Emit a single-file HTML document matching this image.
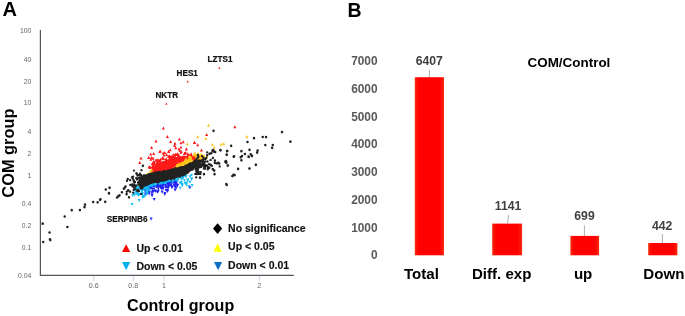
<!DOCTYPE html>
<html><head><meta charset="utf-8"><style>
html,body{margin:0;padding:0;background:#fff;width:685px;height:316px;overflow:hidden}
svg{display:block;will-change:transform}
text{font-family:"Liberation Sans",sans-serif}
</style></head><body>
<svg width="685" height="316" viewBox="0 0 685 316">
<path d="M151.0 170.5 L151.5 169.8 L152.0 169.0 L152.5 168.2 L153.0 167.5 L153.5 166.8 L154.0 166.0 L154.5 165.6 L155.0 165.2 L155.5 164.9 L156.0 164.5 L156.5 164.1 L157.0 163.8 L157.5 163.4 L158.0 163.0 L158.5 162.8 L159.0 162.6 L159.5 162.5 L160.0 162.3 L160.5 162.1 L161.0 161.9 L161.5 161.8 L162.0 161.6 L162.5 161.4 L163.0 161.2 L163.5 161.0 L164.0 160.9 L164.5 160.7 L165.0 160.5 L165.5 160.3 L166.0 160.1 L166.5 160.0 L167.0 159.8 L167.5 159.6 L168.0 159.4 L168.5 159.2 L169.0 159.1 L169.5 158.9 L170.0 158.7 L170.5 158.5 L171.0 158.4 L171.5 158.2 L172.0 158.0 L172.5 157.9 L173.0 157.8 L173.5 157.6 L174.0 157.5 L174.5 157.4 L175.0 157.2 L175.5 157.1 L176.0 157.0 L176.5 156.9 L177.0 156.8 L177.5 156.6 L178.0 156.5 L178.5 156.5 L179.0 156.4 L179.5 156.4 L180.0 156.3 L180.5 156.3 L181.0 156.2 L181.5 156.2 L182.0 156.2 L182.5 156.1 L183.0 156.1 L183.5 156.0 L184.0 156.0 L184.5 156.0 L185.0 156.0 L185.5 156.0 L186.0 156.0 L186.5 156.0 L187.0 156.0 L187.5 156.0 L188.0 156.0 L188.5 156.2 L189.0 156.4 L189.5 156.6 L190.0 156.8 L190.5 156.9 L191.0 157.1 L191.5 157.3 L192.0 157.5 L192.5 157.7 L193.0 157.8 L193.5 158.0 L194.0 158.2 L194.5 158.3 L195.0 158.5 L195.0 160.5 L194.5 160.8 L194.0 161.2 L193.5 161.6 L193.0 161.9 L192.5 162.2 L192.0 162.6 L191.5 162.8 L191.0 163.1 L190.5 163.3 L190.0 163.6 L189.5 163.8 L189.0 164.1 L188.5 164.3 L188.0 164.6 L187.5 164.8 L187.0 165.1 L186.5 165.3 L186.0 165.5 L185.5 165.7 L185.0 165.9 L184.5 166.1 L184.0 166.4 L183.5 166.6 L183.0 166.8 L182.5 167.0 L182.0 167.2 L181.5 167.3 L181.0 167.4 L180.5 167.5 L180.0 167.6 L179.5 167.7 L179.0 167.8 L178.5 167.9 L178.0 168.0 L177.5 168.1 L177.0 168.2 L176.5 168.3 L176.0 168.4 L175.5 168.5 L175.0 168.6 L174.5 168.7 L174.0 168.9 L173.5 169.0 L173.0 169.1 L172.5 169.3 L172.0 169.4 L171.5 169.5 L171.0 169.7 L170.5 169.8 L170.0 169.9 L169.5 170.1 L169.0 170.2 L168.5 170.3 L168.0 170.5 L167.5 170.6 L167.0 170.7 L166.5 170.9 L166.0 171.0 L165.5 171.1 L165.0 171.2 L164.5 171.2 L164.0 171.3 L163.5 171.4 L163.0 171.4 L162.5 171.5 L162.0 171.6 L161.5 171.7 L161.0 171.8 L160.5 171.8 L160.0 171.9 L159.5 172.0 L159.0 172.1 L158.5 172.2 L158.0 172.3 L157.5 172.4 L157.0 172.6 L156.5 172.7 L156.0 172.8 L155.5 172.9 L155.0 173.0 L154.5 173.1 L154.0 173.2 L153.5 173.3 L153.0 173.4 L152.5 173.6 L152.0 173.7 L151.5 173.8 L151.0 173.9Z" fill="#ff1a1a"/>
<path d="M173.0 167.9 L173.5 167.6 L174.0 167.4 L174.5 167.1 L175.0 166.8 L175.5 166.6 L176.0 166.4 L176.5 166.1 L177.0 165.9 L177.5 165.6 L178.0 165.3 L178.5 165.1 L179.0 164.8 L179.5 164.6 L180.0 164.3 L180.5 164.1 L181.0 163.8 L181.5 163.5 L182.0 163.3 L182.5 162.9 L183.0 162.6 L183.5 162.2 L184.0 161.9 L184.5 161.5 L185.0 161.1 L185.5 160.8 L186.0 160.4 L186.5 160.1 L187.0 159.8 L187.5 159.5 L188.0 159.2 L188.5 158.9 L189.0 158.5 L189.5 158.2 L190.0 157.9 L190.5 157.6 L191.0 157.2 L191.5 156.9 L192.0 156.6 L192.5 156.3 L193.0 156.0 L193.5 155.7 L194.0 155.4 L194.5 155.1 L195.0 154.8 L195.5 154.8 L196.0 154.8 L196.5 154.8 L197.0 154.8 L197.5 155.0 L198.0 155.1 L198.5 155.3 L199.0 155.5 L199.5 155.6 L200.0 155.8 L200.5 156.0 L201.0 156.1 L201.5 156.3 L202.0 156.5 L202.5 156.6 L203.0 156.8 L203.5 157.1 L204.0 157.3 L204.5 157.6 L204.5 160.4 L204.0 160.4 L203.5 160.4 L203.0 160.4 L202.5 160.4 L202.0 160.4 L201.5 160.4 L201.0 160.4 L200.5 160.4 L200.0 160.4 L199.5 160.4 L199.0 160.4 L198.5 160.4 L198.0 160.4 L197.5 160.4 L197.0 160.4 L196.5 160.5 L196.0 160.5 L195.5 160.5 L195.0 160.6 L194.5 160.9 L194.0 161.3 L193.5 161.7 L193.0 162.0 L192.5 162.3 L192.0 162.7 L191.5 162.9 L191.0 163.2 L190.5 163.4 L190.0 163.7 L189.5 163.9 L189.0 164.2 L188.5 164.4 L188.0 164.7 L187.5 164.9 L187.0 165.2 L186.5 165.4 L186.0 165.6 L185.5 165.8 L185.0 166.0 L184.5 166.2 L184.0 166.5 L183.5 166.7 L183.0 166.9 L182.5 167.1 L182.0 167.3 L181.5 167.4 L181.0 167.5 L180.5 167.6 L180.0 167.7 L179.5 167.8 L179.0 167.9 L178.5 168.0 L178.0 168.1 L177.5 168.2 L177.0 168.3 L176.5 168.4 L176.0 168.5 L175.5 168.6 L175.0 168.7 L174.5 168.8 L174.0 169.0 L173.5 169.1 L173.0 169.2Z" fill="#fac61c"/>
<path d="M150.0 184.8 L150.5 184.7 L151.0 184.7 L151.5 184.6 L152.0 184.6 L152.5 184.5 L153.0 184.5 L153.5 184.4 L154.0 184.3 L154.5 184.3 L155.0 184.2 L155.5 184.2 L156.0 184.1 L156.5 184.1 L157.0 184.0 L157.5 183.9 L158.0 183.7 L158.5 183.6 L159.0 183.5 L159.5 183.3 L160.0 183.2 L160.5 183.1 L161.0 183.0 L161.5 182.8 L162.0 182.7 L162.5 182.6 L163.0 182.4 L163.5 182.3 L164.0 182.2 L164.5 182.1 L165.0 181.9 L165.5 181.8 L166.0 181.7 L166.5 181.6 L167.0 181.5 L167.5 181.4 L168.0 181.4 L168.5 181.3 L169.0 181.2 L169.5 181.1 L170.0 181.0 L170.5 180.9 L171.0 180.9 L171.5 180.8 L172.0 180.7 L172.5 180.5 L173.0 180.4 L173.5 180.2 L174.0 180.1 L174.5 179.9 L175.0 179.8 L175.0 180.3 L174.5 180.7 L174.0 181.1 L173.5 181.5 L173.0 181.9 L172.5 182.3 L172.0 182.7 L171.5 182.9 L171.0 183.0 L170.5 183.2 L170.0 183.3 L169.5 183.5 L169.0 183.6 L168.5 183.8 L168.0 183.9 L167.5 184.1 L167.0 184.2 L166.5 184.4 L166.0 184.6 L165.5 184.8 L165.0 184.9 L164.5 185.1 L164.0 185.2 L163.5 185.3 L163.0 185.4 L162.5 185.6 L162.0 185.7 L161.5 185.8 L161.0 186.0 L160.5 186.1 L160.0 186.2 L159.5 186.3 L159.0 186.5 L158.5 186.6 L158.0 186.7 L157.5 186.9 L157.0 187.0 L156.5 187.1 L156.0 187.1 L155.5 187.2 L155.0 187.2 L154.5 187.1 L154.0 187.0 L153.5 186.9 L153.0 186.9 L152.5 186.8 L152.0 186.7 L151.5 186.6 L151.0 186.5 L150.5 186.4 L150.0 186.3Z" fill="#2020f2"/>
<path d="M139.0 177.5 L139.5 177.2 L140.0 176.9 L140.5 176.7 L141.0 176.4 L141.5 176.1 L142.0 175.9 L142.5 175.6 L143.0 175.3 L143.5 175.1 L144.0 175.0 L144.5 174.8 L145.0 174.7 L145.5 174.5 L146.0 174.3 L146.5 174.2 L147.0 174.0 L147.5 173.9 L148.0 173.9 L148.5 173.8 L149.0 173.7 L149.5 173.7 L150.0 173.6 L150.5 173.5 L151.0 173.4 L151.5 173.3 L152.0 173.2 L152.5 173.1 L153.0 172.9 L153.5 172.8 L154.0 172.7 L154.5 172.6 L155.0 172.5 L155.5 172.4 L156.0 172.3 L156.5 172.2 L157.0 172.1 L157.5 171.9 L158.0 171.8 L158.5 171.7 L159.0 171.6 L159.5 171.5 L160.0 171.4 L160.5 171.3 L161.0 171.2 L161.5 171.2 L162.0 171.1 L162.5 171.0 L163.0 170.9 L163.5 170.9 L164.0 170.8 L164.5 170.7 L165.0 170.7 L165.5 170.6 L166.0 170.5 L166.5 170.4 L167.0 170.2 L167.5 170.1 L168.0 170.0 L168.5 169.8 L169.0 169.7 L169.5 169.6 L170.0 169.4 L170.5 169.3 L171.0 169.2 L171.5 169.0 L172.0 168.9 L172.5 168.8 L173.0 168.6 L173.5 168.5 L174.0 168.4 L174.5 168.2 L175.0 168.1 L175.5 168.0 L176.0 167.9 L176.5 167.8 L177.0 167.7 L177.5 167.6 L178.0 167.5 L178.5 167.4 L179.0 167.3 L179.5 167.2 L180.0 167.1 L180.5 167.0 L181.0 166.9 L181.5 166.8 L182.0 166.7 L182.5 166.5 L183.0 166.3 L183.5 166.1 L184.0 165.9 L184.5 165.6 L185.0 165.4 L185.5 165.2 L186.0 165.0 L186.5 164.8 L187.0 164.6 L187.5 164.3 L188.0 164.1 L188.5 163.8 L189.0 163.6 L189.5 163.3 L190.0 163.1 L190.5 162.8 L191.0 162.6 L191.5 162.3 L192.0 162.1 L192.5 161.8 L193.0 161.4 L193.5 161.1 L194.0 160.7 L194.5 160.3 L195.0 160.0 L195.5 159.9 L196.0 159.9 L196.5 159.9 L197.0 159.8 L197.0 165.5 L196.5 166.0 L196.0 166.5 L195.5 167.0 L195.0 167.5 L194.5 168.0 L194.0 168.5 L193.5 168.9 L193.0 169.3 L192.5 169.8 L192.0 170.2 L191.5 170.6 L191.0 171.0 L190.5 171.4 L190.0 171.8 L189.5 172.1 L189.0 172.5 L188.5 172.9 L188.0 173.2 L187.5 173.6 L187.0 174.0 L186.5 174.2 L186.0 174.4 L185.5 174.6 L185.0 174.8 L184.5 175.1 L184.0 175.3 L183.5 175.5 L183.0 175.7 L182.5 176.0 L182.0 176.2 L181.5 176.5 L181.0 176.8 L180.5 177.0 L180.0 177.3 L179.5 177.5 L179.0 177.8 L178.5 177.9 L178.0 178.0 L177.5 178.1 L177.0 178.1 L176.5 178.2 L176.0 178.3 L175.5 178.5 L175.0 178.6 L174.5 178.8 L174.0 178.9 L173.5 179.1 L173.0 179.2 L172.5 179.3 L172.0 179.5 L171.5 179.6 L171.0 179.7 L170.5 179.8 L170.0 179.8 L169.5 179.9 L169.0 180.0 L168.5 180.1 L168.0 180.2 L167.5 180.2 L167.0 180.3 L166.5 180.4 L166.0 180.5 L165.5 180.6 L165.0 180.8 L164.5 180.9 L164.0 181.0 L163.5 181.1 L163.0 181.2 L162.5 181.4 L162.0 181.5 L161.5 181.6 L161.0 181.8 L160.5 181.9 L160.0 182.0 L159.5 182.2 L159.0 182.3 L158.5 182.4 L158.0 182.5 L157.5 182.7 L157.0 182.8 L156.5 182.9 L156.0 182.9 L155.5 183.0 L155.0 183.0 L154.5 183.1 L154.0 183.1 L153.5 183.2 L153.0 183.3 L152.5 183.3 L152.0 183.4 L151.5 183.4 L151.0 183.5 L150.5 183.5 L150.0 183.6 L149.5 183.8 L149.0 184.0 L148.5 184.2 L148.0 184.4 L147.5 184.7 L147.0 184.9 L146.5 185.1 L146.0 185.3 L145.5 185.7 L145.0 186.1 L144.5 186.5 L144.0 186.9 L143.5 187.3 L143.0 187.7 L142.5 188.1 L142.0 188.5 L141.5 188.0 L141.0 187.5 L140.5 187.0 L140.0 186.5 L139.5 186.0 L139.0 185.5Z" fill="#222222"/>
<path d="M143.9 193.4h2.9l-1.4 2.9zM149.5 185.4h2.9l-1.4 2.9zM152.5 187.5h2.9l-1.4 2.9zM160.7 187.1h2.9l-1.4 2.9zM163.8 181.4h2.9l-1.4 2.9zM169.7 183.8h2.9l-1.4 2.9zM173.5 185.7h2.9l-1.4 2.9zM167.4 185.4h2.9l-1.4 2.9zM147.8 190.9h2.9l-1.4 2.9zM173.6 180.5h2.9l-1.4 2.9zM156.0 190.8h2.9l-1.4 2.9zM169.8 183.3h2.9l-1.4 2.9zM174.7 183.3h2.9l-1.4 2.9zM150.3 185.5h2.9l-1.4 2.9zM167.4 182.9h2.9l-1.4 2.9zM167.2 185.8h2.9l-1.4 2.9zM150.6 194.4h2.9l-1.4 2.9zM175.8 183.6h2.9l-1.4 2.9zM161.3 182.8h2.9l-1.4 2.9zM173.6 181.9h2.9l-1.4 2.9zM171.8 180.5h2.9l-1.4 2.9zM158.1 184.0h2.9l-1.4 2.9zM161.7 182.3h2.9l-1.4 2.9zM144.5 191.3h2.9l-1.4 2.9zM170.3 185.9h2.9l-1.4 2.9zM149.3 187.4h2.9l-1.4 2.9zM154.6 184.0h2.9l-1.4 2.9zM148.5 186.8h2.9l-1.4 2.9zM160.6 183.3h2.9l-1.4 2.9zM166.3 188.6h2.9l-1.4 2.9zM174.8 186.5h2.9l-1.4 2.9zM146.4 185.6h2.9l-1.4 2.9zM150.9 187.6h2.9l-1.4 2.9zM167.6 181.1h2.9l-1.4 2.9zM164.6 188.9h2.9l-1.4 2.9zM162.0 182.8h2.9l-1.4 2.9zM153.8 189.6h2.9l-1.4 2.9zM173.3 183.5h2.9l-1.4 2.9zM150.4 191.2h2.9l-1.4 2.9zM160.8 190.5h2.9l-1.4 2.9zM162.5 183.1h2.9l-1.4 2.9zM160.2 186.9h2.9l-1.4 2.9zM163.5 192.0h2.9l-1.4 2.9zM160.6 183.9h2.9l-1.4 2.9zM156.8 184.7h2.9l-1.4 2.9zM159.8 187.1h2.9l-1.4 2.9zM166.4 185.4h2.9l-1.4 2.9zM157.2 184.9h2.9l-1.4 2.9zM175.1 180.9h2.9l-1.4 2.9zM159.2 183.9h2.9l-1.4 2.9zM147.7 192.6h2.9l-1.4 2.9zM173.3 181.7h2.9l-1.4 2.9zM159.3 183.5h2.9l-1.4 2.9zM163.9 183.7h2.9l-1.4 2.9zM174.1 182.8h2.9l-1.4 2.9zM144.3 191.9h2.9l-1.4 2.9zM150.0 185.0h2.9l-1.4 2.9zM154.2 189.8h2.9l-1.4 2.9zM155.3 184.8h2.9l-1.4 2.9zM167.7 181.8h2.9l-1.4 2.9zM147.6 188.2h2.9l-1.4 2.9zM150.1 184.2h2.9l-1.4 2.9zM161.1 185.5h2.9l-1.4 2.9zM157.2 184.4h2.9l-1.4 2.9zM161.0 183.4h2.9l-1.4 2.9zM164.4 183.5h2.9l-1.4 2.9zM164.6 189.0h2.9l-1.4 2.9zM163.7 182.7h2.9l-1.4 2.9zM171.8 180.3h2.9l-1.4 2.9zM170.3 185.8h2.9l-1.4 2.9zM173.3 180.4h2.9l-1.4 2.9zM174.0 181.6h2.9l-1.4 2.9zM150.7 193.5h2.9l-1.4 2.9zM148.0 184.5h2.9l-1.4 2.9zM151.4 184.3h2.9l-1.4 2.9zM146.8 188.6h2.9l-1.4 2.9zM171.0 185.3h2.9l-1.4 2.9zM147.7 188.5h2.9l-1.4 2.9zM156.8 183.3h2.9l-1.4 2.9zM150.2 184.8h2.9l-1.4 2.9zM166.1 190.0h2.9l-1.4 2.9zM147.4 191.3h2.9l-1.4 2.9zM160.2 182.4h2.9l-1.4 2.9zM166.2 185.7h2.9l-1.4 2.9zM149.8 186.0h2.9l-1.4 2.9zM144.8 186.7h2.9l-1.4 2.9zM161.8 187.0h2.9l-1.4 2.9zM148.4 184.8h2.9l-1.4 2.9zM149.6 186.6h2.9l-1.4 2.9zM176.2 184.0h2.9l-1.4 2.9zM174.1 179.9h2.9l-1.4 2.9zM174.9 179.4h2.9l-1.4 2.9zM158.8 182.8h2.9l-1.4 2.9zM159.0 186.0h2.9l-1.4 2.9zM160.6 187.0h2.9l-1.4 2.9zM144.0 188.9h2.9l-1.4 2.9zM166.7 182.1h2.9l-1.4 2.9zM158.5 184.7h2.9l-1.4 2.9zM167.9 182.6h2.9l-1.4 2.9zM149.0 185.9h2.9l-1.4 2.9zM160.5 190.5h2.9l-1.4 2.9zM170.0 180.9h2.9l-1.4 2.9zM166.8 184.3h2.9l-1.4 2.9zM156.9 187.4h2.9l-1.4 2.9zM163.3 193.0h2.9l-1.4 2.9zM170.1 180.4h2.9l-1.4 2.9zM152.1 190.0h2.9l-1.4 2.9zM169.2 183.5h2.9l-1.4 2.9zM170.4 186.3h2.9l-1.4 2.9zM172.6 183.4h2.9l-1.4 2.9zM166.5 181.5h2.9l-1.4 2.9zM156.9 189.8h2.9l-1.4 2.9zM167.4 183.9h2.9l-1.4 2.9zM159.0 184.0h2.9l-1.4 2.9zM143.9 190.4h2.9l-1.4 2.9zM164.1 185.8h2.9l-1.4 2.9zM151.2 190.2h2.9l-1.4 2.9zM154.7 185.5h2.9l-1.4 2.9zM165.3 185.6h2.9l-1.4 2.9zM156.4 185.2h2.9l-1.4 2.9zM152.7 198.1h3.0l-1.5 3.0zM173.6 188.5h3.0l-1.5 3.0zM175.7 184.0h3.0l-1.5 3.0zM173.5 188.4h3.0l-1.5 3.0zM188.4 186.2h3.0l-1.5 3.0zM171.8 180.1h3.0l-1.5 3.0z" fill="#2020f2"/>
<path d="M184.5 174.9h2.9l-1.4 2.9zM170.8 180.5h2.9l-1.4 2.9zM139.6 188.0h2.9l-1.4 2.9zM147.5 184.1h2.9l-1.4 2.9zM143.1 186.3h2.9l-1.4 2.9zM180.2 176.7h2.9l-1.4 2.9zM161.9 181.5h2.9l-1.4 2.9zM184.3 175.0h2.9l-1.4 2.9zM166.0 179.7h2.9l-1.4 2.9zM181.3 175.4h2.9l-1.4 2.9zM161.3 180.8h2.9l-1.4 2.9zM182.0 175.6h2.9l-1.4 2.9zM162.8 181.0h2.9l-1.4 2.9zM151.7 183.8h2.9l-1.4 2.9zM139.2 186.9h2.9l-1.4 2.9zM140.5 188.1h2.9l-1.4 2.9zM179.8 177.3h2.9l-1.4 2.9zM140.9 189.4h2.9l-1.4 2.9zM182.0 175.0h2.9l-1.4 2.9zM180.2 176.5h2.9l-1.4 2.9zM160.5 181.3h2.9l-1.4 2.9zM162.6 181.6h2.9l-1.4 2.9zM160.1 182.4h2.9l-1.4 2.9zM147.9 183.3h2.9l-1.4 2.9zM158.9 182.1h2.9l-1.4 2.9zM150.6 183.8h2.9l-1.4 2.9zM157.8 182.5h2.9l-1.4 2.9zM184.4 175.5h2.9l-1.4 2.9zM143.8 186.9h2.9l-1.4 2.9zM174.6 178.3h2.9l-1.4 2.9zM151.0 183.9h2.9l-1.4 2.9zM164.5 181.0h2.9l-1.4 2.9zM150.0 184.5h2.9l-1.4 2.9zM180.7 177.1h2.9l-1.4 2.9zM140.4 187.8h2.9l-1.4 2.9zM151.0 183.4h2.9l-1.4 2.9zM142.5 187.5h2.9l-1.4 2.9zM163.9 180.7h2.9l-1.4 2.9zM154.4 183.6h2.9l-1.4 2.9zM177.1 177.4h2.9l-1.4 2.9zM144.1 186.5h2.9l-1.4 2.9zM167.2 179.8h2.9l-1.4 2.9zM168.6 179.8h2.9l-1.4 2.9zM163.8 181.7h2.9l-1.4 2.9zM143.0 187.5h2.9l-1.4 2.9zM142.2 186.7h2.9l-1.4 2.9zM148.4 184.2h2.9l-1.4 2.9zM142.3 187.0h2.9l-1.4 2.9zM171.9 179.0h2.9l-1.4 2.9zM145.1 185.0h2.9l-1.4 2.9zM143.9 186.4h2.9l-1.4 2.9zM164.7 181.5h2.9l-1.4 2.9zM180.6 176.4h2.9l-1.4 2.9zM153.2 183.1h2.9l-1.4 2.9zM181.5 176.7h2.9l-1.4 2.9zM150.0 183.4h2.9l-1.4 2.9zM147.5 184.4h2.9l-1.4 2.9zM175.2 179.0h2.9l-1.4 2.9zM173.5 178.5h2.9l-1.4 2.9zM139.6 187.8h2.9l-1.4 2.9zM163.6 181.8h2.9l-1.4 2.9zM168.5 179.3h2.9l-1.4 2.9zM163.7 180.2h2.9l-1.4 2.9zM142.3 187.8h2.9l-1.4 2.9zM179.9 176.1h2.9l-1.4 2.9zM172.9 178.6h2.9l-1.4 2.9zM148.7 184.3h2.9l-1.4 2.9zM162.5 181.1h2.9l-1.4 2.9zM154.1 184.1h2.9l-1.4 2.9zM163.3 181.4h2.9l-1.4 2.9zM180.6 176.3h2.9l-1.4 2.9zM176.6 178.5h2.9l-1.4 2.9zM146.2 191.2h2.9l-1.4 2.9zM145.9 192.2h2.9l-1.4 2.9zM147.9 188.8h2.9l-1.4 2.9zM140.9 193.8h2.9l-1.4 2.9zM145.4 187.7h2.9l-1.4 2.9zM139.3 187.2h2.9l-1.4 2.9zM144.4 193.9h2.9l-1.4 2.9zM138.6 186.7h2.9l-1.4 2.9zM135.8 188.3h2.9l-1.4 2.9zM137.2 193.7h2.9l-1.4 2.9zM133.5 187.1h2.9l-1.4 2.9zM134.4 190.5h2.9l-1.4 2.9zM145.0 185.5h2.9l-1.4 2.9zM133.5 188.6h2.9l-1.4 2.9zM141.9 195.1h2.9l-1.4 2.9zM133.1 185.1h2.9l-1.4 2.9zM135.5 186.2h2.9l-1.4 2.9zM136.3 191.2h2.9l-1.4 2.9zM142.1 188.1h2.9l-1.4 2.9zM135.5 186.9h2.9l-1.4 2.9zM135.3 191.6h2.9l-1.4 2.9zM137.5 189.5h2.9l-1.4 2.9zM145.6 188.2h2.9l-1.4 2.9zM136.7 192.9h2.9l-1.4 2.9zM147.2 186.2h2.9l-1.4 2.9zM141.3 196.0h2.9l-1.4 2.9zM140.3 189.0h2.9l-1.4 2.9zM133.3 193.5h2.9l-1.4 2.9zM145.4 187.4h2.9l-1.4 2.9zM141.0 191.9h2.9l-1.4 2.9zM136.9 194.0h2.9l-1.4 2.9zM143.1 187.4h2.9l-1.4 2.9zM132.7 188.8h2.9l-1.4 2.9zM138.5 193.0h2.9l-1.4 2.9zM144.0 190.4h2.9l-1.4 2.9zM135.1 185.6h2.9l-1.4 2.9zM137.7 186.8h2.9l-1.4 2.9zM146.5 188.2h2.9l-1.4 2.9zM142.7 195.2h2.9l-1.4 2.9zM136.8 189.4h2.9l-1.4 2.9zM135.0 191.8h2.9l-1.4 2.9zM132.6 192.3h2.9l-1.4 2.9zM146.1 191.4h2.9l-1.4 2.9zM133.9 186.7h2.9l-1.4 2.9zM144.0 185.3h2.9l-1.4 2.9zM140.2 191.4h2.9l-1.4 2.9zM147.8 188.3h2.9l-1.4 2.9zM146.3 186.2h2.9l-1.4 2.9zM145.2 187.8h2.9l-1.4 2.9zM147.2 183.6h2.9l-1.4 2.9zM190.1 173.7h2.9l-1.4 2.9zM186.2 179.3h2.9l-1.4 2.9zM180.8 184.3h2.9l-1.4 2.9zM182.9 179.2h2.9l-1.4 2.9zM179.6 180.7h2.9l-1.4 2.9zM185.1 181.5h2.9l-1.4 2.9zM183.6 181.9h2.9l-1.4 2.9zM180.0 181.2h2.9l-1.4 2.9zM185.0 183.5h2.9l-1.4 2.9zM190.2 177.3h2.9l-1.4 2.9zM178.7 181.8h2.9l-1.4 2.9zM188.5 175.2h2.9l-1.4 2.9zM186.4 178.5h2.9l-1.4 2.9zM178.7 186.7h2.9l-1.4 2.9zM130.6 203.1h3.0l-1.5 3.0zM137.7 199.1h3.0l-1.5 3.0zM131.3 194.1h3.0l-1.5 3.0zM135.6 192.7h3.0l-1.5 3.0zM179.6 177.3h3.0l-1.5 3.0zM180.7 182.9h3.0l-1.5 3.0zM188.4 180.7h3.0l-1.5 3.0zM190.1 177.9h3.0l-1.5 3.0zM190.6 184.0h3.0l-1.5 3.0zM187.3 185.1h3.0l-1.5 3.0z" fill="#14bbf4"/>
<path d="M169.8 156.4l1.4 2.9h-2.9zM191.5 153.9l1.4 2.9h-2.9zM172.4 155.6l1.4 2.9h-2.9zM157.5 160.4l1.4 2.9h-2.9zM178.0 155.0l1.4 2.9h-2.9zM153.3 161.9l1.4 2.9h-2.9zM153.2 165.5l1.4 2.9h-2.9zM180.9 150.8l1.4 2.9h-2.9zM194.2 157.6l1.4 2.9h-2.9zM179.1 154.0l1.4 2.9h-2.9zM156.2 158.5l1.4 2.9h-2.9zM173.3 152.9l1.4 2.9h-2.9zM157.7 158.9l1.4 2.9h-2.9zM150.4 166.0l1.4 2.9h-2.9zM169.3 157.8l1.4 2.9h-2.9zM172.9 155.7l1.4 2.9h-2.9zM172.0 156.0l1.4 2.9h-2.9zM170.0 155.0l1.4 2.9h-2.9zM194.9 158.0l1.4 2.9h-2.9zM187.6 153.9l1.4 2.9h-2.9zM163.5 157.0l1.4 2.9h-2.9zM162.3 156.7l1.4 2.9h-2.9zM184.2 152.3l1.4 2.9h-2.9zM187.9 152.2l1.4 2.9h-2.9zM193.1 156.6l1.4 2.9h-2.9zM149.0 165.5l1.4 2.9h-2.9zM190.9 153.6l1.4 2.9h-2.9zM194.1 154.8l1.4 2.9h-2.9zM152.4 165.2l1.4 2.9h-2.9zM184.8 151.5l1.4 2.9h-2.9zM153.0 162.4l1.4 2.9h-2.9zM193.3 156.3l1.4 2.9h-2.9zM154.4 160.8l1.4 2.9h-2.9zM153.6 160.1l1.4 2.9h-2.9zM185.7 151.0l1.4 2.9h-2.9zM174.7 154.3l1.4 2.9h-2.9zM157.8 161.4l1.4 2.9h-2.9zM155.0 162.7l1.4 2.9h-2.9zM154.4 161.9l1.4 2.9h-2.9zM158.8 158.7l1.4 2.9h-2.9zM193.7 156.6l1.4 2.9h-2.9zM163.0 160.2l1.4 2.9h-2.9zM158.7 159.3l1.4 2.9h-2.9zM188.3 153.7l1.4 2.9h-2.9zM153.6 166.1l1.4 2.9h-2.9zM158.8 158.6l1.4 2.9h-2.9zM184.5 151.9l1.4 2.9h-2.9zM162.6 156.6l1.4 2.9h-2.9zM153.1 164.0l1.4 2.9h-2.9zM160.2 159.8l1.4 2.9h-2.9zM166.1 157.2l1.4 2.9h-2.9zM193.1 154.8l1.4 2.9h-2.9zM175.4 156.1l1.4 2.9h-2.9zM157.4 158.6l1.4 2.9h-2.9zM190.8 155.6l1.4 2.9h-2.9zM160.5 157.8l1.4 2.9h-2.9zM183.0 155.3l1.4 2.9h-2.9zM158.0 162.3l1.4 2.9h-2.9zM189.6 153.8l1.4 2.9h-2.9zM168.4 154.8l1.4 2.9h-2.9zM150.8 169.8l1.4 2.9h-2.9zM160.0 160.4l1.4 2.9h-2.9zM160.8 160.7l1.4 2.9h-2.9zM176.4 153.0l1.4 2.9h-2.9zM157.1 161.8l1.4 2.9h-2.9zM152.2 162.3l1.4 2.9h-2.9zM174.7 156.2l1.4 2.9h-2.9zM177.3 152.7l1.4 2.9h-2.9zM191.2 152.3l1.4 2.9h-2.9zM149.8 165.2l1.4 2.9h-2.9zM169.5 154.2l1.4 2.9h-2.9zM157.1 159.9l1.4 2.9h-2.9zM175.3 152.6l1.4 2.9h-2.9zM165.7 159.3l1.4 2.9h-2.9zM194.1 156.1l1.4 2.9h-2.9zM179.0 147.4l1.4 2.9h-2.9zM155.9 158.5l1.4 2.9h-2.9zM150.8 152.5l1.4 2.9h-2.9zM179.4 137.6l1.4 2.9h-2.9zM150.9 157.9l1.4 2.9h-2.9zM170.3 148.4l1.4 2.9h-2.9zM163.4 126.6l1.4 2.9h-2.9zM153.2 156.8l1.4 2.9h-2.9zM181.0 141.3l1.4 2.9h-2.9zM181.0 145.7l1.4 2.9h-2.9zM183.3 140.3l1.4 2.9h-2.9zM164.8 151.0l1.4 2.9h-2.9zM234.9 125.3l1.5 3.0h-3.0zM206.6 133.1l1.5 3.0h-3.0zM194.7 141.1l1.5 3.0h-3.0zM197.7 143.3l1.5 3.0h-3.0zM186.3 147.5l1.5 3.0h-3.0zM201.5 148.5l1.5 3.0h-3.0zM167.4 134.9l1.5 3.0h-3.0zM156.0 139.4l1.5 3.0h-3.0zM170.6 140.1l1.5 3.0h-3.0zM174.9 141.7l1.5 3.0h-3.0zM174.6 144.1l1.5 3.0h-3.0zM175.8 146.2l1.5 3.0h-3.0zM151.6 146.0l1.5 3.0h-3.0zM153.7 151.9l1.5 3.0h-3.0zM159.8 150.0l1.5 3.0h-3.0zM163.2 151.5l1.5 3.0h-3.0zM168.5 150.0l1.5 3.0h-3.0zM179.8 148.8l1.5 3.0h-3.0zM181.2 150.0l1.5 3.0h-3.0zM186.4 147.3l1.5 3.0h-3.0zM194.3 140.9l1.5 3.0h-3.0zM141.0 156.6l1.5 3.0h-3.0zM148.6 156.0l1.5 3.0h-3.0zM151.6 156.0l1.5 3.0h-3.0zM139.7 161.1l1.5 3.0h-3.0zM160.2 149.5l1.5 3.0h-3.0zM148.9 156.0l1.5 3.0h-3.0zM164.0 153.5l1.5 3.0h-3.0zM166.6 152.9l1.5 3.0h-3.0zM168.8 150.1l1.5 3.0h-3.0zM169.1 155.1l1.5 3.0h-3.0zM177.7 152.3l1.5 3.0h-3.0zM171.2 154.9l1.5 3.0h-3.0zM173.2 155.7l1.5 3.0h-3.0z" fill="#ff1a1a"/>
<path d="M203.9 154.1l1.4 2.9h-2.9zM188.9 155.7l1.4 2.9h-2.9zM202.8 154.3l1.4 2.9h-2.9zM195.4 152.9l1.4 2.9h-2.9zM194.1 152.9l1.4 2.9h-2.9zM178.5 162.5l1.4 2.9h-2.9zM206.8 155.2l1.4 2.9h-2.9zM198.6 153.4l1.4 2.9h-2.9zM198.8 153.0l1.4 2.9h-2.9zM189.7 155.1l1.4 2.9h-2.9zM178.6 162.2l1.4 2.9h-2.9zM176.9 163.5l1.4 2.9h-2.9zM190.9 155.8l1.4 2.9h-2.9zM197.6 152.8l1.4 2.9h-2.9zM195.0 151.5l1.4 2.9h-2.9zM183.9 160.9l1.4 2.9h-2.9zM185.3 158.3l1.4 2.9h-2.9zM182.3 161.7l1.4 2.9h-2.9zM204.1 154.7l1.4 2.9h-2.9zM189.7 154.9l1.4 2.9h-2.9zM186.1 157.7l1.4 2.9h-2.9zM182.2 161.2l1.4 2.9h-2.9zM201.0 152.9l1.4 2.9h-2.9zM203.3 155.0l1.4 2.9h-2.9zM194.1 153.6l1.4 2.9h-2.9zM180.2 162.0l1.4 2.9h-2.9zM201.9 153.4l1.4 2.9h-2.9zM198.0 151.8l1.4 2.9h-2.9zM184.6 160.1l1.4 2.9h-2.9zM190.0 156.3l1.4 2.9h-2.9zM182.6 160.9l1.4 2.9h-2.9zM195.4 152.6l1.4 2.9h-2.9zM185.8 157.5l1.4 2.9h-2.9zM206.4 156.2l1.4 2.9h-2.9zM178.3 164.2l1.4 2.9h-2.9zM203.1 155.8l1.4 2.9h-2.9zM198.0 152.7l1.4 2.9h-2.9zM185.6 157.8l1.4 2.9h-2.9zM176.6 164.8l1.4 2.9h-2.9zM190.1 156.8l1.4 2.9h-2.9zM151.9 170.9l1.4 2.9h-2.9zM147.4 172.3l1.4 2.9h-2.9zM150.6 170.5l1.4 2.9h-2.9zM150.6 169.7l1.4 2.9h-2.9zM151.7 168.4l1.4 2.9h-2.9zM150.9 171.2l1.4 2.9h-2.9zM149.6 171.6l1.4 2.9h-2.9zM208.5 123.7l1.5 3.0h-3.0zM197.7 135.1l1.5 3.0h-3.0zM205.8 137.0l1.5 3.0h-3.0zM187.4 142.2l1.5 3.0h-3.0zM212.4 143.0l1.5 3.0h-3.0zM214.2 145.7l1.5 3.0h-3.0zM221.1 142.7l1.5 3.0h-3.0zM223.7 141.9l1.5 3.0h-3.0zM246.8 134.9l1.5 3.0h-3.0z" fill="#fac61c"/>
<path d="M187.4 165.0a1.22 1.22 0 1 0 2.43 0a1.22 1.22 0 1 0 -2.43 0zM155.8 173.2a1.22 1.22 0 1 0 2.43 0a1.22 1.22 0 1 0 -2.43 0zM156.3 172.8a1.22 1.22 0 1 0 2.43 0a1.22 1.22 0 1 0 -2.43 0zM179.1 167.6a1.22 1.22 0 1 0 2.43 0a1.22 1.22 0 1 0 -2.43 0zM183.1 167.4a1.22 1.22 0 1 0 2.43 0a1.22 1.22 0 1 0 -2.43 0zM172.7 177.5a1.22 1.22 0 1 0 2.43 0a1.22 1.22 0 1 0 -2.43 0zM189.1 163.5a1.22 1.22 0 1 0 2.43 0a1.22 1.22 0 1 0 -2.43 0zM143.6 185.5a1.22 1.22 0 1 0 2.43 0a1.22 1.22 0 1 0 -2.43 0zM148.9 183.1a1.22 1.22 0 1 0 2.43 0a1.22 1.22 0 1 0 -2.43 0zM174.5 168.6a1.22 1.22 0 1 0 2.43 0a1.22 1.22 0 1 0 -2.43 0zM147.5 174.7a1.22 1.22 0 1 0 2.43 0a1.22 1.22 0 1 0 -2.43 0zM142.3 186.1a1.22 1.22 0 1 0 2.43 0a1.22 1.22 0 1 0 -2.43 0zM169.5 179.1a1.22 1.22 0 1 0 2.43 0a1.22 1.22 0 1 0 -2.43 0zM188.7 163.9a1.22 1.22 0 1 0 2.43 0a1.22 1.22 0 1 0 -2.43 0zM163.3 171.6a1.22 1.22 0 1 0 2.43 0a1.22 1.22 0 1 0 -2.43 0zM181.2 175.4a1.22 1.22 0 1 0 2.43 0a1.22 1.22 0 1 0 -2.43 0zM178.7 175.3a1.22 1.22 0 1 0 2.43 0a1.22 1.22 0 1 0 -2.43 0zM158.3 172.8a1.22 1.22 0 1 0 2.43 0a1.22 1.22 0 1 0 -2.43 0zM144.4 175.5a1.22 1.22 0 1 0 2.43 0a1.22 1.22 0 1 0 -2.43 0zM186.7 172.4a1.22 1.22 0 1 0 2.43 0a1.22 1.22 0 1 0 -2.43 0zM147.6 183.7a1.22 1.22 0 1 0 2.43 0a1.22 1.22 0 1 0 -2.43 0zM171.8 169.7a1.22 1.22 0 1 0 2.43 0a1.22 1.22 0 1 0 -2.43 0zM146.6 184.3a1.22 1.22 0 1 0 2.43 0a1.22 1.22 0 1 0 -2.43 0zM169.8 179.2a1.22 1.22 0 1 0 2.43 0a1.22 1.22 0 1 0 -2.43 0zM150.0 182.6a1.22 1.22 0 1 0 2.43 0a1.22 1.22 0 1 0 -2.43 0zM150.1 174.0a1.22 1.22 0 1 0 2.43 0a1.22 1.22 0 1 0 -2.43 0zM173.5 177.3a1.22 1.22 0 1 0 2.43 0a1.22 1.22 0 1 0 -2.43 0zM195.4 160.8a1.22 1.22 0 1 0 2.43 0a1.22 1.22 0 1 0 -2.43 0zM145.5 183.3a1.22 1.22 0 1 0 2.43 0a1.22 1.22 0 1 0 -2.43 0zM193.8 166.5a1.22 1.22 0 1 0 2.43 0a1.22 1.22 0 1 0 -2.43 0zM172.5 170.1a1.22 1.22 0 1 0 2.43 0a1.22 1.22 0 1 0 -2.43 0zM199.3 164.6a1.22 1.22 0 1 0 2.43 0a1.22 1.22 0 1 0 -2.43 0zM145.4 183.6a1.22 1.22 0 1 0 2.43 0a1.22 1.22 0 1 0 -2.43 0zM193.4 161.4a1.22 1.22 0 1 0 2.43 0a1.22 1.22 0 1 0 -2.43 0zM189.3 164.0a1.22 1.22 0 1 0 2.43 0a1.22 1.22 0 1 0 -2.43 0zM142.5 175.6a1.22 1.22 0 1 0 2.43 0a1.22 1.22 0 1 0 -2.43 0zM199.0 164.7a1.22 1.22 0 1 0 2.43 0a1.22 1.22 0 1 0 -2.43 0zM156.9 181.8a1.22 1.22 0 1 0 2.43 0a1.22 1.22 0 1 0 -2.43 0zM161.4 180.8a1.22 1.22 0 1 0 2.43 0a1.22 1.22 0 1 0 -2.43 0zM138.8 177.9a1.22 1.22 0 1 0 2.43 0a1.22 1.22 0 1 0 -2.43 0zM146.7 175.0a1.22 1.22 0 1 0 2.43 0a1.22 1.22 0 1 0 -2.43 0zM148.6 182.2a1.22 1.22 0 1 0 2.43 0a1.22 1.22 0 1 0 -2.43 0zM173.0 169.6a1.22 1.22 0 1 0 2.43 0a1.22 1.22 0 1 0 -2.43 0zM140.1 186.1a1.22 1.22 0 1 0 2.43 0a1.22 1.22 0 1 0 -2.43 0zM197.3 164.3a1.22 1.22 0 1 0 2.43 0a1.22 1.22 0 1 0 -2.43 0zM163.3 180.1a1.22 1.22 0 1 0 2.43 0a1.22 1.22 0 1 0 -2.43 0zM184.8 173.3a1.22 1.22 0 1 0 2.43 0a1.22 1.22 0 1 0 -2.43 0zM199.5 165.0a1.22 1.22 0 1 0 2.43 0a1.22 1.22 0 1 0 -2.43 0zM163.1 179.9a1.22 1.22 0 1 0 2.43 0a1.22 1.22 0 1 0 -2.43 0zM193.9 166.3a1.22 1.22 0 1 0 2.43 0a1.22 1.22 0 1 0 -2.43 0zM164.6 179.1a1.22 1.22 0 1 0 2.43 0a1.22 1.22 0 1 0 -2.43 0zM141.2 187.8a1.22 1.22 0 1 0 2.43 0a1.22 1.22 0 1 0 -2.43 0zM183.2 174.5a1.22 1.22 0 1 0 2.43 0a1.22 1.22 0 1 0 -2.43 0zM156.7 180.7a1.22 1.22 0 1 0 2.43 0a1.22 1.22 0 1 0 -2.43 0zM145.5 183.9a1.22 1.22 0 1 0 2.43 0a1.22 1.22 0 1 0 -2.43 0zM162.4 172.2a1.22 1.22 0 1 0 2.43 0a1.22 1.22 0 1 0 -2.43 0zM170.4 169.8a1.22 1.22 0 1 0 2.43 0a1.22 1.22 0 1 0 -2.43 0zM162.3 171.3a1.22 1.22 0 1 0 2.43 0a1.22 1.22 0 1 0 -2.43 0zM194.3 166.2a1.22 1.22 0 1 0 2.43 0a1.22 1.22 0 1 0 -2.43 0zM191.5 169.0a1.22 1.22 0 1 0 2.43 0a1.22 1.22 0 1 0 -2.43 0zM151.5 182.3a1.22 1.22 0 1 0 2.43 0a1.22 1.22 0 1 0 -2.43 0zM193.8 161.5a1.22 1.22 0 1 0 2.43 0a1.22 1.22 0 1 0 -2.43 0zM145.5 184.7a1.22 1.22 0 1 0 2.43 0a1.22 1.22 0 1 0 -2.43 0zM137.8 178.2a1.22 1.22 0 1 0 2.43 0a1.22 1.22 0 1 0 -2.43 0zM157.9 173.2a1.22 1.22 0 1 0 2.43 0a1.22 1.22 0 1 0 -2.43 0zM188.3 164.2a1.22 1.22 0 1 0 2.43 0a1.22 1.22 0 1 0 -2.43 0zM174.1 168.4a1.22 1.22 0 1 0 2.43 0a1.22 1.22 0 1 0 -2.43 0zM193.5 161.3a1.22 1.22 0 1 0 2.43 0a1.22 1.22 0 1 0 -2.43 0zM195.7 164.4a1.22 1.22 0 1 0 2.43 0a1.22 1.22 0 1 0 -2.43 0zM150.6 174.9a1.22 1.22 0 1 0 2.43 0a1.22 1.22 0 1 0 -2.43 0zM193.4 161.8a1.22 1.22 0 1 0 2.43 0a1.22 1.22 0 1 0 -2.43 0zM159.7 180.1a1.22 1.22 0 1 0 2.43 0a1.22 1.22 0 1 0 -2.43 0zM192.3 167.2a1.22 1.22 0 1 0 2.43 0a1.22 1.22 0 1 0 -2.43 0zM177.0 169.1a1.22 1.22 0 1 0 2.43 0a1.22 1.22 0 1 0 -2.43 0zM140.9 177.2a1.22 1.22 0 1 0 2.43 0a1.22 1.22 0 1 0 -2.43 0zM157.2 182.0a1.22 1.22 0 1 0 2.43 0a1.22 1.22 0 1 0 -2.43 0zM182.0 167.5a1.22 1.22 0 1 0 2.43 0a1.22 1.22 0 1 0 -2.43 0zM195.9 163.6a1.22 1.22 0 1 0 2.43 0a1.22 1.22 0 1 0 -2.43 0zM151.6 174.3a1.22 1.22 0 1 0 2.43 0a1.22 1.22 0 1 0 -2.43 0zM150.0 174.0a1.22 1.22 0 1 0 2.43 0a1.22 1.22 0 1 0 -2.43 0zM179.0 175.8a1.22 1.22 0 1 0 2.43 0a1.22 1.22 0 1 0 -2.43 0zM178.8 176.3a1.22 1.22 0 1 0 2.43 0a1.22 1.22 0 1 0 -2.43 0zM152.0 174.6a1.22 1.22 0 1 0 2.43 0a1.22 1.22 0 1 0 -2.43 0zM179.1 168.3a1.22 1.22 0 1 0 2.43 0a1.22 1.22 0 1 0 -2.43 0zM143.4 185.2a1.22 1.22 0 1 0 2.43 0a1.22 1.22 0 1 0 -2.43 0zM170.5 177.6a1.22 1.22 0 1 0 2.43 0a1.22 1.22 0 1 0 -2.43 0zM175.0 168.5a1.22 1.22 0 1 0 2.43 0a1.22 1.22 0 1 0 -2.43 0zM187.6 164.4a1.22 1.22 0 1 0 2.43 0a1.22 1.22 0 1 0 -2.43 0zM184.6 165.8a1.22 1.22 0 1 0 2.43 0a1.22 1.22 0 1 0 -2.43 0zM171.8 170.3a1.22 1.22 0 1 0 2.43 0a1.22 1.22 0 1 0 -2.43 0zM199.0 160.8a1.22 1.22 0 1 0 2.43 0a1.22 1.22 0 1 0 -2.43 0zM184.3 166.9a1.22 1.22 0 1 0 2.43 0a1.22 1.22 0 1 0 -2.43 0zM168.8 170.6a1.22 1.22 0 1 0 2.43 0a1.22 1.22 0 1 0 -2.43 0zM177.8 168.6a1.22 1.22 0 1 0 2.43 0a1.22 1.22 0 1 0 -2.43 0zM186.3 172.5a1.22 1.22 0 1 0 2.43 0a1.22 1.22 0 1 0 -2.43 0zM190.2 169.6a1.22 1.22 0 1 0 2.43 0a1.22 1.22 0 1 0 -2.43 0zM196.8 161.3a1.22 1.22 0 1 0 2.43 0a1.22 1.22 0 1 0 -2.43 0zM148.0 182.3a1.22 1.22 0 1 0 2.43 0a1.22 1.22 0 1 0 -2.43 0zM165.1 179.9a1.22 1.22 0 1 0 2.43 0a1.22 1.22 0 1 0 -2.43 0zM186.8 165.1a1.22 1.22 0 1 0 2.43 0a1.22 1.22 0 1 0 -2.43 0zM151.5 182.2a1.22 1.22 0 1 0 2.43 0a1.22 1.22 0 1 0 -2.43 0zM140.0 187.0a1.22 1.22 0 1 0 2.43 0a1.22 1.22 0 1 0 -2.43 0zM173.3 177.1a1.22 1.22 0 1 0 2.43 0a1.22 1.22 0 1 0 -2.43 0zM147.2 174.9a1.22 1.22 0 1 0 2.43 0a1.22 1.22 0 1 0 -2.43 0zM164.7 179.0a1.22 1.22 0 1 0 2.43 0a1.22 1.22 0 1 0 -2.43 0zM187.3 165.5a1.22 1.22 0 1 0 2.43 0a1.22 1.22 0 1 0 -2.43 0zM173.1 178.2a1.22 1.22 0 1 0 2.43 0a1.22 1.22 0 1 0 -2.43 0zM152.5 173.5a1.22 1.22 0 1 0 2.43 0a1.22 1.22 0 1 0 -2.43 0zM140.4 177.3a1.22 1.22 0 1 0 2.43 0a1.22 1.22 0 1 0 -2.43 0zM170.4 170.2a1.22 1.22 0 1 0 2.43 0a1.22 1.22 0 1 0 -2.43 0zM143.3 184.8a1.22 1.22 0 1 0 2.43 0a1.22 1.22 0 1 0 -2.43 0zM153.6 173.9a1.22 1.22 0 1 0 2.43 0a1.22 1.22 0 1 0 -2.43 0zM189.3 169.5a1.22 1.22 0 1 0 2.43 0a1.22 1.22 0 1 0 -2.43 0zM163.2 171.4a1.22 1.22 0 1 0 2.43 0a1.22 1.22 0 1 0 -2.43 0zM198.0 160.8a1.22 1.22 0 1 0 2.43 0a1.22 1.22 0 1 0 -2.43 0zM185.0 172.6a1.22 1.22 0 1 0 2.43 0a1.22 1.22 0 1 0 -2.43 0zM166.0 178.4a1.22 1.22 0 1 0 2.43 0a1.22 1.22 0 1 0 -2.43 0zM152.7 181.4a1.22 1.22 0 1 0 2.43 0a1.22 1.22 0 1 0 -2.43 0zM162.1 171.8a1.22 1.22 0 1 0 2.43 0a1.22 1.22 0 1 0 -2.43 0zM142.5 176.9a1.22 1.22 0 1 0 2.43 0a1.22 1.22 0 1 0 -2.43 0zM185.1 172.7a1.22 1.22 0 1 0 2.43 0a1.22 1.22 0 1 0 -2.43 0zM153.5 181.5a1.22 1.22 0 1 0 2.43 0a1.22 1.22 0 1 0 -2.43 0zM166.4 178.9a1.22 1.22 0 1 0 2.43 0a1.22 1.22 0 1 0 -2.43 0zM158.7 181.1a1.22 1.22 0 1 0 2.43 0a1.22 1.22 0 1 0 -2.43 0zM140.2 187.1a1.22 1.22 0 1 0 2.43 0a1.22 1.22 0 1 0 -2.43 0zM141.4 176.8a1.22 1.22 0 1 0 2.43 0a1.22 1.22 0 1 0 -2.43 0zM191.4 169.3a1.22 1.22 0 1 0 2.43 0a1.22 1.22 0 1 0 -2.43 0zM166.5 171.6a1.22 1.22 0 1 0 2.43 0a1.22 1.22 0 1 0 -2.43 0zM161.4 179.7a1.22 1.22 0 1 0 2.43 0a1.22 1.22 0 1 0 -2.43 0zM159.3 172.4a1.22 1.22 0 1 0 2.43 0a1.22 1.22 0 1 0 -2.43 0zM147.9 174.3a1.22 1.22 0 1 0 2.43 0a1.22 1.22 0 1 0 -2.43 0zM166.8 170.9a1.22 1.22 0 1 0 2.43 0a1.22 1.22 0 1 0 -2.43 0zM199.4 165.1a1.22 1.22 0 1 0 2.43 0a1.22 1.22 0 1 0 -2.43 0zM150.5 173.6a1.22 1.22 0 1 0 2.43 0a1.22 1.22 0 1 0 -2.43 0zM180.6 167.4a1.22 1.22 0 1 0 2.43 0a1.22 1.22 0 1 0 -2.43 0zM138.9 177.6a1.22 1.22 0 1 0 2.43 0a1.22 1.22 0 1 0 -2.43 0zM162.1 180.4a1.22 1.22 0 1 0 2.43 0a1.22 1.22 0 1 0 -2.43 0zM154.4 172.9a1.22 1.22 0 1 0 2.43 0a1.22 1.22 0 1 0 -2.43 0zM195.9 161.2a1.22 1.22 0 1 0 2.43 0a1.22 1.22 0 1 0 -2.43 0zM182.6 173.4a1.22 1.22 0 1 0 2.43 0a1.22 1.22 0 1 0 -2.43 0zM157.8 172.1a1.22 1.22 0 1 0 2.43 0a1.22 1.22 0 1 0 -2.43 0zM192.5 162.4a1.22 1.22 0 1 0 2.43 0a1.22 1.22 0 1 0 -2.43 0zM170.0 170.0a1.22 1.22 0 1 0 2.43 0a1.22 1.22 0 1 0 -2.43 0zM152.6 173.3a1.22 1.22 0 1 0 2.43 0a1.22 1.22 0 1 0 -2.43 0zM174.7 168.7a1.22 1.22 0 1 0 2.43 0a1.22 1.22 0 1 0 -2.43 0zM164.1 178.9a1.22 1.22 0 1 0 2.43 0a1.22 1.22 0 1 0 -2.43 0zM181.6 167.7a1.22 1.22 0 1 0 2.43 0a1.22 1.22 0 1 0 -2.43 0zM179.1 167.6a1.22 1.22 0 1 0 2.43 0a1.22 1.22 0 1 0 -2.43 0zM155.2 181.6a1.22 1.22 0 1 0 2.43 0a1.22 1.22 0 1 0 -2.43 0zM161.7 179.7a1.22 1.22 0 1 0 2.43 0a1.22 1.22 0 1 0 -2.43 0zM155.9 172.7a1.22 1.22 0 1 0 2.43 0a1.22 1.22 0 1 0 -2.43 0zM140.3 177.4a1.22 1.22 0 1 0 2.43 0a1.22 1.22 0 1 0 -2.43 0zM172.9 178.6a1.22 1.22 0 1 0 2.43 0a1.22 1.22 0 1 0 -2.43 0zM156.3 182.3a1.22 1.22 0 1 0 2.43 0a1.22 1.22 0 1 0 -2.43 0zM151.2 182.5a1.22 1.22 0 1 0 2.43 0a1.22 1.22 0 1 0 -2.43 0zM197.0 163.9a1.22 1.22 0 1 0 2.43 0a1.22 1.22 0 1 0 -2.43 0zM177.0 168.4a1.22 1.22 0 1 0 2.43 0a1.22 1.22 0 1 0 -2.43 0zM162.1 171.8a1.22 1.22 0 1 0 2.43 0a1.22 1.22 0 1 0 -2.43 0zM158.1 180.7a1.22 1.22 0 1 0 2.43 0a1.22 1.22 0 1 0 -2.43 0zM147.6 183.0a1.22 1.22 0 1 0 2.43 0a1.22 1.22 0 1 0 -2.43 0zM195.1 164.8a1.17 1.17 0 1 0 2.34 0a1.17 1.17 0 1 0 -2.34 0zM194.5 163.6a1.17 1.17 0 1 0 2.34 0a1.17 1.17 0 1 0 -2.34 0zM196.8 163.8a1.17 1.17 0 1 0 2.34 0a1.17 1.17 0 1 0 -2.34 0zM199.9 166.9a1.17 1.17 0 1 0 2.34 0a1.17 1.17 0 1 0 -2.34 0zM202.3 157.7a1.17 1.17 0 1 0 2.34 0a1.17 1.17 0 1 0 -2.34 0zM194.0 164.4a1.17 1.17 0 1 0 2.34 0a1.17 1.17 0 1 0 -2.34 0zM197.3 165.0a1.17 1.17 0 1 0 2.34 0a1.17 1.17 0 1 0 -2.34 0zM197.5 167.5a1.17 1.17 0 1 0 2.34 0a1.17 1.17 0 1 0 -2.34 0zM194.2 160.3a1.17 1.17 0 1 0 2.34 0a1.17 1.17 0 1 0 -2.34 0zM198.3 166.2a1.17 1.17 0 1 0 2.34 0a1.17 1.17 0 1 0 -2.34 0zM196.6 166.3a1.17 1.17 0 1 0 2.34 0a1.17 1.17 0 1 0 -2.34 0zM196.8 167.4a1.17 1.17 0 1 0 2.34 0a1.17 1.17 0 1 0 -2.34 0zM209.4 159.9a1.17 1.17 0 1 0 2.34 0a1.17 1.17 0 1 0 -2.34 0zM201.5 163.7a1.17 1.17 0 1 0 2.34 0a1.17 1.17 0 1 0 -2.34 0zM195.3 159.9a1.17 1.17 0 1 0 2.34 0a1.17 1.17 0 1 0 -2.34 0zM215.5 163.4a1.17 1.17 0 1 0 2.34 0a1.17 1.17 0 1 0 -2.34 0zM197.0 155.7a1.17 1.17 0 1 0 2.34 0a1.17 1.17 0 1 0 -2.34 0zM204.2 159.1a1.17 1.17 0 1 0 2.34 0a1.17 1.17 0 1 0 -2.34 0zM200.7 161.7a1.17 1.17 0 1 0 2.34 0a1.17 1.17 0 1 0 -2.34 0zM197.6 162.6a1.17 1.17 0 1 0 2.34 0a1.17 1.17 0 1 0 -2.34 0zM196.1 171.4a1.17 1.17 0 1 0 2.34 0a1.17 1.17 0 1 0 -2.34 0zM197.2 157.2a1.17 1.17 0 1 0 2.34 0a1.17 1.17 0 1 0 -2.34 0zM210.7 165.8a1.17 1.17 0 1 0 2.34 0a1.17 1.17 0 1 0 -2.34 0zM198.8 166.5a1.17 1.17 0 1 0 2.34 0a1.17 1.17 0 1 0 -2.34 0zM196.4 157.6a1.17 1.17 0 1 0 2.34 0a1.17 1.17 0 1 0 -2.34 0zM195.0 177.3a1.17 1.17 0 1 0 2.34 0a1.17 1.17 0 1 0 -2.34 0zM195.3 167.7a1.17 1.17 0 1 0 2.34 0a1.17 1.17 0 1 0 -2.34 0zM195.7 174.0a1.17 1.17 0 1 0 2.34 0a1.17 1.17 0 1 0 -2.34 0zM193.8 162.2a1.17 1.17 0 1 0 2.34 0a1.17 1.17 0 1 0 -2.34 0zM195.7 165.2a1.17 1.17 0 1 0 2.34 0a1.17 1.17 0 1 0 -2.34 0zM198.6 162.2a1.17 1.17 0 1 0 2.34 0a1.17 1.17 0 1 0 -2.34 0zM200.7 160.3a1.17 1.17 0 1 0 2.34 0a1.17 1.17 0 1 0 -2.34 0zM199.6 172.1a1.17 1.17 0 1 0 2.34 0a1.17 1.17 0 1 0 -2.34 0zM196.7 154.8a1.17 1.17 0 1 0 2.34 0a1.17 1.17 0 1 0 -2.34 0zM196.8 169.6a1.17 1.17 0 1 0 2.34 0a1.17 1.17 0 1 0 -2.34 0zM202.6 162.1a1.17 1.17 0 1 0 2.34 0a1.17 1.17 0 1 0 -2.34 0zM202.2 160.1a1.17 1.17 0 1 0 2.34 0a1.17 1.17 0 1 0 -2.34 0zM206.0 152.3a1.17 1.17 0 1 0 2.34 0a1.17 1.17 0 1 0 -2.34 0zM195.0 162.5a1.17 1.17 0 1 0 2.34 0a1.17 1.17 0 1 0 -2.34 0zM199.6 161.6a1.17 1.17 0 1 0 2.34 0a1.17 1.17 0 1 0 -2.34 0zM197.1 164.4a1.17 1.17 0 1 0 2.34 0a1.17 1.17 0 1 0 -2.34 0zM199.2 173.9a1.17 1.17 0 1 0 2.34 0a1.17 1.17 0 1 0 -2.34 0zM195.7 166.6a1.17 1.17 0 1 0 2.34 0a1.17 1.17 0 1 0 -2.34 0zM195.2 171.1a1.17 1.17 0 1 0 2.34 0a1.17 1.17 0 1 0 -2.34 0zM198.9 167.1a1.17 1.17 0 1 0 2.34 0a1.17 1.17 0 1 0 -2.34 0zM194.3 168.2a1.17 1.17 0 1 0 2.34 0a1.17 1.17 0 1 0 -2.34 0zM194.6 166.1a1.17 1.17 0 1 0 2.34 0a1.17 1.17 0 1 0 -2.34 0zM198.0 163.7a1.17 1.17 0 1 0 2.34 0a1.17 1.17 0 1 0 -2.34 0zM204.2 161.7a1.17 1.17 0 1 0 2.34 0a1.17 1.17 0 1 0 -2.34 0zM207.9 164.1a1.17 1.17 0 1 0 2.34 0a1.17 1.17 0 1 0 -2.34 0zM208.1 167.3a1.17 1.17 0 1 0 2.34 0a1.17 1.17 0 1 0 -2.34 0zM198.8 167.1a1.17 1.17 0 1 0 2.34 0a1.17 1.17 0 1 0 -2.34 0zM205.0 158.3a1.17 1.17 0 1 0 2.34 0a1.17 1.17 0 1 0 -2.34 0zM195.9 171.5a1.17 1.17 0 1 0 2.34 0a1.17 1.17 0 1 0 -2.34 0zM202.6 162.9a1.17 1.17 0 1 0 2.34 0a1.17 1.17 0 1 0 -2.34 0zM203.8 168.7a1.17 1.17 0 1 0 2.34 0a1.17 1.17 0 1 0 -2.34 0zM206.8 167.1a1.17 1.17 0 1 0 2.34 0a1.17 1.17 0 1 0 -2.34 0zM197.7 160.4a1.17 1.17 0 1 0 2.34 0a1.17 1.17 0 1 0 -2.34 0zM202.4 158.3a1.17 1.17 0 1 0 2.34 0a1.17 1.17 0 1 0 -2.34 0zM205.1 157.8a1.17 1.17 0 1 0 2.34 0a1.17 1.17 0 1 0 -2.34 0zM194.8 161.4a1.17 1.17 0 1 0 2.34 0a1.17 1.17 0 1 0 -2.34 0zM195.7 171.8a1.17 1.17 0 1 0 2.34 0a1.17 1.17 0 1 0 -2.34 0zM195.3 173.3a1.17 1.17 0 1 0 2.34 0a1.17 1.17 0 1 0 -2.34 0zM213.6 163.0a1.17 1.17 0 1 0 2.34 0a1.17 1.17 0 1 0 -2.34 0zM218.5 166.4a1.17 1.17 0 1 0 2.34 0a1.17 1.17 0 1 0 -2.34 0zM197.6 171.8a1.17 1.17 0 1 0 2.34 0a1.17 1.17 0 1 0 -2.34 0zM200.8 156.1a1.17 1.17 0 1 0 2.34 0a1.17 1.17 0 1 0 -2.34 0zM194.2 173.9a1.17 1.17 0 1 0 2.34 0a1.17 1.17 0 1 0 -2.34 0zM202.6 166.1a1.17 1.17 0 1 0 2.34 0a1.17 1.17 0 1 0 -2.34 0zM196.2 167.4a1.17 1.17 0 1 0 2.34 0a1.17 1.17 0 1 0 -2.34 0zM203.0 167.4a1.17 1.17 0 1 0 2.34 0a1.17 1.17 0 1 0 -2.34 0zM196.6 166.2a1.17 1.17 0 1 0 2.34 0a1.17 1.17 0 1 0 -2.34 0zM194.0 161.4a1.17 1.17 0 1 0 2.34 0a1.17 1.17 0 1 0 -2.34 0zM197.1 164.7a1.17 1.17 0 1 0 2.34 0a1.17 1.17 0 1 0 -2.34 0zM195.5 168.4a1.17 1.17 0 1 0 2.34 0a1.17 1.17 0 1 0 -2.34 0zM195.3 159.2a1.17 1.17 0 1 0 2.34 0a1.17 1.17 0 1 0 -2.34 0zM196.1 161.2a1.17 1.17 0 1 0 2.34 0a1.17 1.17 0 1 0 -2.34 0zM211.7 158.0a1.17 1.17 0 1 0 2.34 0a1.17 1.17 0 1 0 -2.34 0zM196.0 164.3a1.17 1.17 0 1 0 2.34 0a1.17 1.17 0 1 0 -2.34 0zM201.1 160.3a1.17 1.17 0 1 0 2.34 0a1.17 1.17 0 1 0 -2.34 0zM194.5 167.1a1.17 1.17 0 1 0 2.34 0a1.17 1.17 0 1 0 -2.34 0zM206.0 165.3a1.17 1.17 0 1 0 2.34 0a1.17 1.17 0 1 0 -2.34 0zM195.1 164.3a1.17 1.17 0 1 0 2.34 0a1.17 1.17 0 1 0 -2.34 0zM195.6 166.2a1.17 1.17 0 1 0 2.34 0a1.17 1.17 0 1 0 -2.34 0zM193.9 164.5a1.17 1.17 0 1 0 2.34 0a1.17 1.17 0 1 0 -2.34 0zM198.2 164.6a1.17 1.17 0 1 0 2.34 0a1.17 1.17 0 1 0 -2.34 0zM195.3 166.8a1.17 1.17 0 1 0 2.34 0a1.17 1.17 0 1 0 -2.34 0zM195.9 170.3a1.17 1.17 0 1 0 2.34 0a1.17 1.17 0 1 0 -2.34 0zM195.2 167.5a1.17 1.17 0 1 0 2.34 0a1.17 1.17 0 1 0 -2.34 0zM203.9 164.6a1.17 1.17 0 1 0 2.34 0a1.17 1.17 0 1 0 -2.34 0zM195.5 168.2a1.17 1.17 0 1 0 2.34 0a1.17 1.17 0 1 0 -2.34 0zM196.8 166.9a1.17 1.17 0 1 0 2.34 0a1.17 1.17 0 1 0 -2.34 0zM194.8 169.2a1.17 1.17 0 1 0 2.34 0a1.17 1.17 0 1 0 -2.34 0zM196.2 162.7a1.17 1.17 0 1 0 2.34 0a1.17 1.17 0 1 0 -2.34 0zM201.2 163.8a1.17 1.17 0 1 0 2.34 0a1.17 1.17 0 1 0 -2.34 0zM197.4 166.5a1.17 1.17 0 1 0 2.34 0a1.17 1.17 0 1 0 -2.34 0zM198.6 163.2a1.17 1.17 0 1 0 2.34 0a1.17 1.17 0 1 0 -2.34 0zM206.4 161.5a1.17 1.17 0 1 0 2.34 0a1.17 1.17 0 1 0 -2.34 0zM202.8 168.5a1.17 1.17 0 1 0 2.34 0a1.17 1.17 0 1 0 -2.34 0zM201.9 164.5a1.17 1.17 0 1 0 2.34 0a1.17 1.17 0 1 0 -2.34 0zM199.6 165.6a1.17 1.17 0 1 0 2.34 0a1.17 1.17 0 1 0 -2.34 0zM194.7 167.1a1.17 1.17 0 1 0 2.34 0a1.17 1.17 0 1 0 -2.34 0zM194.4 169.6a1.17 1.17 0 1 0 2.34 0a1.17 1.17 0 1 0 -2.34 0zM200.1 166.7a1.17 1.17 0 1 0 2.34 0a1.17 1.17 0 1 0 -2.34 0zM195.5 165.6a1.17 1.17 0 1 0 2.34 0a1.17 1.17 0 1 0 -2.34 0zM194.9 166.2a1.17 1.17 0 1 0 2.34 0a1.17 1.17 0 1 0 -2.34 0zM208.2 167.8a1.17 1.17 0 1 0 2.34 0a1.17 1.17 0 1 0 -2.34 0zM201.3 165.1a1.17 1.17 0 1 0 2.34 0a1.17 1.17 0 1 0 -2.34 0zM133.0 184.5a1.17 1.17 0 1 0 2.34 0a1.17 1.17 0 1 0 -2.34 0zM132.7 180.4a1.17 1.17 0 1 0 2.34 0a1.17 1.17 0 1 0 -2.34 0zM132.0 186.6a1.17 1.17 0 1 0 2.34 0a1.17 1.17 0 1 0 -2.34 0zM140.3 170.2a1.17 1.17 0 1 0 2.34 0a1.17 1.17 0 1 0 -2.34 0zM125.8 180.8a1.17 1.17 0 1 0 2.34 0a1.17 1.17 0 1 0 -2.34 0zM139.4 187.5a1.17 1.17 0 1 0 2.34 0a1.17 1.17 0 1 0 -2.34 0zM128.8 191.7a1.17 1.17 0 1 0 2.34 0a1.17 1.17 0 1 0 -2.34 0zM139.5 184.3a1.17 1.17 0 1 0 2.34 0a1.17 1.17 0 1 0 -2.34 0zM138.4 179.2a1.17 1.17 0 1 0 2.34 0a1.17 1.17 0 1 0 -2.34 0zM132.5 189.8a1.17 1.17 0 1 0 2.34 0a1.17 1.17 0 1 0 -2.34 0zM138.6 180.9a1.17 1.17 0 1 0 2.34 0a1.17 1.17 0 1 0 -2.34 0zM139.2 180.3a1.17 1.17 0 1 0 2.34 0a1.17 1.17 0 1 0 -2.34 0zM129.1 184.9a1.17 1.17 0 1 0 2.34 0a1.17 1.17 0 1 0 -2.34 0zM138.8 185.4a1.17 1.17 0 1 0 2.34 0a1.17 1.17 0 1 0 -2.34 0zM134.1 186.4a1.17 1.17 0 1 0 2.34 0a1.17 1.17 0 1 0 -2.34 0zM136.9 191.2a1.17 1.17 0 1 0 2.34 0a1.17 1.17 0 1 0 -2.34 0zM135.1 185.3a1.17 1.17 0 1 0 2.34 0a1.17 1.17 0 1 0 -2.34 0zM140.1 185.2a1.17 1.17 0 1 0 2.34 0a1.17 1.17 0 1 0 -2.34 0zM138.7 183.0a1.17 1.17 0 1 0 2.34 0a1.17 1.17 0 1 0 -2.34 0zM137.3 184.2a1.17 1.17 0 1 0 2.34 0a1.17 1.17 0 1 0 -2.34 0zM138.2 181.3a1.17 1.17 0 1 0 2.34 0a1.17 1.17 0 1 0 -2.34 0zM125.6 191.6a1.17 1.17 0 1 0 2.34 0a1.17 1.17 0 1 0 -2.34 0zM139.7 186.3a1.17 1.17 0 1 0 2.34 0a1.17 1.17 0 1 0 -2.34 0zM133.8 182.0a1.17 1.17 0 1 0 2.34 0a1.17 1.17 0 1 0 -2.34 0zM140.3 188.0a1.17 1.17 0 1 0 2.34 0a1.17 1.17 0 1 0 -2.34 0zM124.4 186.5a1.17 1.17 0 1 0 2.34 0a1.17 1.17 0 1 0 -2.34 0zM139.6 177.5a1.17 1.17 0 1 0 2.34 0a1.17 1.17 0 1 0 -2.34 0zM139.9 187.2a1.17 1.17 0 1 0 2.34 0a1.17 1.17 0 1 0 -2.34 0zM139.2 178.6a1.17 1.17 0 1 0 2.34 0a1.17 1.17 0 1 0 -2.34 0zM138.9 173.7a1.17 1.17 0 1 0 2.34 0a1.17 1.17 0 1 0 -2.34 0zM139.8 174.9a1.17 1.17 0 1 0 2.34 0a1.17 1.17 0 1 0 -2.34 0zM140.0 193.9a1.17 1.17 0 1 0 2.34 0a1.17 1.17 0 1 0 -2.34 0zM135.8 179.6a1.17 1.17 0 1 0 2.34 0a1.17 1.17 0 1 0 -2.34 0zM139.6 187.9a1.17 1.17 0 1 0 2.34 0a1.17 1.17 0 1 0 -2.34 0zM136.0 190.9a1.17 1.17 0 1 0 2.34 0a1.17 1.17 0 1 0 -2.34 0zM135.9 178.5a1.17 1.17 0 1 0 2.34 0a1.17 1.17 0 1 0 -2.34 0zM137.3 181.9a1.17 1.17 0 1 0 2.34 0a1.17 1.17 0 1 0 -2.34 0zM131.7 184.3a1.17 1.17 0 1 0 2.34 0a1.17 1.17 0 1 0 -2.34 0zM135.0 178.1a1.17 1.17 0 1 0 2.34 0a1.17 1.17 0 1 0 -2.34 0zM138.1 185.6a1.17 1.17 0 1 0 2.34 0a1.17 1.17 0 1 0 -2.34 0zM138.4 184.4a1.17 1.17 0 1 0 2.34 0a1.17 1.17 0 1 0 -2.34 0zM136.6 190.1a1.17 1.17 0 1 0 2.34 0a1.17 1.17 0 1 0 -2.34 0zM137.2 190.1a1.17 1.17 0 1 0 2.34 0a1.17 1.17 0 1 0 -2.34 0zM137.9 185.0a1.17 1.17 0 1 0 2.34 0a1.17 1.17 0 1 0 -2.34 0zM136.3 175.5a1.17 1.17 0 1 0 2.34 0a1.17 1.17 0 1 0 -2.34 0zM140.0 177.4a1.17 1.17 0 1 0 2.34 0a1.17 1.17 0 1 0 -2.34 0zM137.7 191.2a1.17 1.17 0 1 0 2.34 0a1.17 1.17 0 1 0 -2.34 0zM139.0 183.2a1.17 1.17 0 1 0 2.34 0a1.17 1.17 0 1 0 -2.34 0zM134.2 189.2a1.17 1.17 0 1 0 2.34 0a1.17 1.17 0 1 0 -2.34 0zM130.7 185.1a1.17 1.17 0 1 0 2.34 0a1.17 1.17 0 1 0 -2.34 0zM140.2 188.5a1.17 1.17 0 1 0 2.34 0a1.17 1.17 0 1 0 -2.34 0zM139.5 183.1a1.17 1.17 0 1 0 2.34 0a1.17 1.17 0 1 0 -2.34 0zM131.7 178.9a1.17 1.17 0 1 0 2.34 0a1.17 1.17 0 1 0 -2.34 0zM132.0 176.6a1.17 1.17 0 1 0 2.34 0a1.17 1.17 0 1 0 -2.34 0zM132.8 170.6a1.17 1.17 0 1 0 2.34 0a1.17 1.17 0 1 0 -2.34 0zM140.5 182.1a1.17 1.17 0 1 0 2.34 0a1.17 1.17 0 1 0 -2.34 0zM130.6 184.6a1.17 1.17 0 1 0 2.34 0a1.17 1.17 0 1 0 -2.34 0zM132.6 181.7a1.17 1.17 0 1 0 2.34 0a1.17 1.17 0 1 0 -2.34 0zM137.8 175.0a1.17 1.17 0 1 0 2.34 0a1.17 1.17 0 1 0 -2.34 0zM139.7 181.3a1.17 1.17 0 1 0 2.34 0a1.17 1.17 0 1 0 -2.34 0zM139.2 182.4a1.17 1.17 0 1 0 2.34 0a1.17 1.17 0 1 0 -2.34 0zM136.8 182.6a1.17 1.17 0 1 0 2.34 0a1.17 1.17 0 1 0 -2.34 0zM133.1 181.5a1.17 1.17 0 1 0 2.34 0a1.17 1.17 0 1 0 -2.34 0zM132.8 185.1a1.17 1.17 0 1 0 2.34 0a1.17 1.17 0 1 0 -2.34 0zM131.2 186.0a1.17 1.17 0 1 0 2.34 0a1.17 1.17 0 1 0 -2.34 0zM129.0 180.2a1.17 1.17 0 1 0 2.34 0a1.17 1.17 0 1 0 -2.34 0zM132.9 187.4a1.17 1.17 0 1 0 2.34 0a1.17 1.17 0 1 0 -2.34 0zM140.3 186.7a1.17 1.17 0 1 0 2.34 0a1.17 1.17 0 1 0 -2.34 0zM140.6 178.0a1.17 1.17 0 1 0 2.34 0a1.17 1.17 0 1 0 -2.34 0zM131.9 192.6a1.17 1.17 0 1 0 2.34 0a1.17 1.17 0 1 0 -2.34 0zM41.5 223.7a1.22 1.22 0 1 0 2.43 0a1.22 1.22 0 1 0 -2.43 0zM48.3 232.5a1.22 1.22 0 1 0 2.43 0a1.22 1.22 0 1 0 -2.43 0zM48.7 239.3a1.22 1.22 0 1 0 2.43 0a1.22 1.22 0 1 0 -2.43 0zM42.0 242.0a1.22 1.22 0 1 0 2.43 0a1.22 1.22 0 1 0 -2.43 0zM49.1 240.1a1.22 1.22 0 1 0 2.43 0a1.22 1.22 0 1 0 -2.43 0zM63.5 216.5a1.22 1.22 0 1 0 2.43 0a1.22 1.22 0 1 0 -2.43 0zM66.2 227.0a1.22 1.22 0 1 0 2.43 0a1.22 1.22 0 1 0 -2.43 0zM70.5 210.2a1.22 1.22 0 1 0 2.43 0a1.22 1.22 0 1 0 -2.43 0zM78.7 210.0a1.22 1.22 0 1 0 2.43 0a1.22 1.22 0 1 0 -2.43 0zM83.3 207.2a1.22 1.22 0 1 0 2.43 0a1.22 1.22 0 1 0 -2.43 0zM83.8 204.7a1.22 1.22 0 1 0 2.43 0a1.22 1.22 0 1 0 -2.43 0zM92.0 202.0a1.22 1.22 0 1 0 2.43 0a1.22 1.22 0 1 0 -2.43 0zM96.4 202.4a1.22 1.22 0 1 0 2.43 0a1.22 1.22 0 1 0 -2.43 0zM98.8 199.8a1.22 1.22 0 1 0 2.43 0a1.22 1.22 0 1 0 -2.43 0zM104.0 201.9a1.22 1.22 0 1 0 2.43 0a1.22 1.22 0 1 0 -2.43 0zM104.6 189.5a1.22 1.22 0 1 0 2.43 0a1.22 1.22 0 1 0 -2.43 0zM108.4 187.8a1.22 1.22 0 1 0 2.43 0a1.22 1.22 0 1 0 -2.43 0zM107.8 193.5a1.22 1.22 0 1 0 2.43 0a1.22 1.22 0 1 0 -2.43 0zM115.8 197.5a1.22 1.22 0 1 0 2.43 0a1.22 1.22 0 1 0 -2.43 0zM117.1 196.3a1.22 1.22 0 1 0 2.43 0a1.22 1.22 0 1 0 -2.43 0zM108.3 187.9a1.22 1.22 0 1 0 2.43 0a1.22 1.22 0 1 0 -2.43 0zM107.7 193.0a1.22 1.22 0 1 0 2.43 0a1.22 1.22 0 1 0 -2.43 0zM99.3 199.3a1.22 1.22 0 1 0 2.43 0a1.22 1.22 0 1 0 -2.43 0zM116.7 196.6a1.22 1.22 0 1 0 2.43 0a1.22 1.22 0 1 0 -2.43 0zM118.3 195.3a1.22 1.22 0 1 0 2.43 0a1.22 1.22 0 1 0 -2.43 0zM120.7 192.3a1.22 1.22 0 1 0 2.43 0a1.22 1.22 0 1 0 -2.43 0zM122.7 188.7a1.22 1.22 0 1 0 2.43 0a1.22 1.22 0 1 0 -2.43 0zM123.8 187.4a1.22 1.22 0 1 0 2.43 0a1.22 1.22 0 1 0 -2.43 0zM125.4 194.2a1.22 1.22 0 1 0 2.43 0a1.22 1.22 0 1 0 -2.43 0zM127.8 197.4a1.22 1.22 0 1 0 2.43 0a1.22 1.22 0 1 0 -2.43 0zM127.0 190.3a1.22 1.22 0 1 0 2.43 0a1.22 1.22 0 1 0 -2.43 0zM126.5 179.1a1.22 1.22 0 1 0 2.43 0a1.22 1.22 0 1 0 -2.43 0zM130.9 177.3a1.22 1.22 0 1 0 2.43 0a1.22 1.22 0 1 0 -2.43 0zM135.2 173.4a1.22 1.22 0 1 0 2.43 0a1.22 1.22 0 1 0 -2.43 0zM136.1 174.5a1.22 1.22 0 1 0 2.43 0a1.22 1.22 0 1 0 -2.43 0zM141.7 165.8a1.22 1.22 0 1 0 2.43 0a1.22 1.22 0 1 0 -2.43 0zM212.3 130.9a1.22 1.22 0 1 0 2.43 0a1.22 1.22 0 1 0 -2.43 0zM229.9 145.8a1.22 1.22 0 1 0 2.43 0a1.22 1.22 0 1 0 -2.43 0zM219.1 150.2a1.22 1.22 0 1 0 2.43 0a1.22 1.22 0 1 0 -2.43 0zM225.8 151.2a1.22 1.22 0 1 0 2.43 0a1.22 1.22 0 1 0 -2.43 0zM225.6 154.8a1.22 1.22 0 1 0 2.43 0a1.22 1.22 0 1 0 -2.43 0zM232.6 156.7a1.22 1.22 0 1 0 2.43 0a1.22 1.22 0 1 0 -2.43 0zM212.0 150.0a1.22 1.22 0 1 0 2.43 0a1.22 1.22 0 1 0 -2.43 0zM212.8 151.6a1.22 1.22 0 1 0 2.43 0a1.22 1.22 0 1 0 -2.43 0zM280.8 132.1a1.22 1.22 0 1 0 2.43 0a1.22 1.22 0 1 0 -2.43 0zM289.2 141.7a1.22 1.22 0 1 0 2.43 0a1.22 1.22 0 1 0 -2.43 0zM252.8 138.2a1.22 1.22 0 1 0 2.43 0a1.22 1.22 0 1 0 -2.43 0zM261.5 137.0a1.22 1.22 0 1 0 2.43 0a1.22 1.22 0 1 0 -2.43 0zM264.8 137.1a1.22 1.22 0 1 0 2.43 0a1.22 1.22 0 1 0 -2.43 0zM246.3 142.0a1.22 1.22 0 1 0 2.43 0a1.22 1.22 0 1 0 -2.43 0zM264.1 145.1a1.22 1.22 0 1 0 2.43 0a1.22 1.22 0 1 0 -2.43 0zM271.6 145.0a1.22 1.22 0 1 0 2.43 0a1.22 1.22 0 1 0 -2.43 0zM270.9 147.8a1.22 1.22 0 1 0 2.43 0a1.22 1.22 0 1 0 -2.43 0zM256.4 150.5a1.22 1.22 0 1 0 2.43 0a1.22 1.22 0 1 0 -2.43 0zM255.9 152.6a1.22 1.22 0 1 0 2.43 0a1.22 1.22 0 1 0 -2.43 0zM248.3 149.8a1.22 1.22 0 1 0 2.43 0a1.22 1.22 0 1 0 -2.43 0zM240.2 151.2a1.22 1.22 0 1 0 2.43 0a1.22 1.22 0 1 0 -2.43 0zM243.7 154.0a1.22 1.22 0 1 0 2.43 0a1.22 1.22 0 1 0 -2.43 0zM249.5 154.4a1.22 1.22 0 1 0 2.43 0a1.22 1.22 0 1 0 -2.43 0zM250.7 156.1a1.22 1.22 0 1 0 2.43 0a1.22 1.22 0 1 0 -2.43 0zM247.6 156.8a1.22 1.22 0 1 0 2.43 0a1.22 1.22 0 1 0 -2.43 0zM240.8 156.1a1.22 1.22 0 1 0 2.43 0a1.22 1.22 0 1 0 -2.43 0zM239.5 157.3a1.22 1.22 0 1 0 2.43 0a1.22 1.22 0 1 0 -2.43 0zM240.2 160.3a1.22 1.22 0 1 0 2.43 0a1.22 1.22 0 1 0 -2.43 0zM254.7 164.8a1.22 1.22 0 1 0 2.43 0a1.22 1.22 0 1 0 -2.43 0zM248.3 168.5a1.22 1.22 0 1 0 2.43 0a1.22 1.22 0 1 0 -2.43 0zM236.9 169.0a1.22 1.22 0 1 0 2.43 0a1.22 1.22 0 1 0 -2.43 0zM232.5 156.7a1.22 1.22 0 1 0 2.43 0a1.22 1.22 0 1 0 -2.43 0zM247.3 156.7a1.22 1.22 0 1 0 2.43 0a1.22 1.22 0 1 0 -2.43 0zM250.8 155.9a1.22 1.22 0 1 0 2.43 0a1.22 1.22 0 1 0 -2.43 0zM224.7 161.1a1.22 1.22 0 1 0 2.43 0a1.22 1.22 0 1 0 -2.43 0zM225.2 162.3a1.22 1.22 0 1 0 2.43 0a1.22 1.22 0 1 0 -2.43 0zM226.8 165.5a1.22 1.22 0 1 0 2.43 0a1.22 1.22 0 1 0 -2.43 0zM236.9 168.9a1.22 1.22 0 1 0 2.43 0a1.22 1.22 0 1 0 -2.43 0zM248.2 168.6a1.22 1.22 0 1 0 2.43 0a1.22 1.22 0 1 0 -2.43 0zM254.6 164.8a1.22 1.22 0 1 0 2.43 0a1.22 1.22 0 1 0 -2.43 0zM231.1 176.1a1.22 1.22 0 1 0 2.43 0a1.22 1.22 0 1 0 -2.43 0zM233.4 175.2a1.22 1.22 0 1 0 2.43 0a1.22 1.22 0 1 0 -2.43 0zM225.5 185.0a1.22 1.22 0 1 0 2.43 0a1.22 1.22 0 1 0 -2.43 0zM211.3 150.7a1.22 1.22 0 1 0 2.43 0a1.22 1.22 0 1 0 -2.43 0zM213.0 151.4a1.22 1.22 0 1 0 2.43 0a1.22 1.22 0 1 0 -2.43 0zM214.0 152.1a1.22 1.22 0 1 0 2.43 0a1.22 1.22 0 1 0 -2.43 0zM208.3 153.8a1.22 1.22 0 1 0 2.43 0a1.22 1.22 0 1 0 -2.43 0zM210.2 153.1a1.22 1.22 0 1 0 2.43 0a1.22 1.22 0 1 0 -2.43 0zM205.9 155.4a1.22 1.22 0 1 0 2.43 0a1.22 1.22 0 1 0 -2.43 0zM213.7 160.7a1.22 1.22 0 1 0 2.43 0a1.22 1.22 0 1 0 -2.43 0zM216.8 162.8a1.22 1.22 0 1 0 2.43 0a1.22 1.22 0 1 0 -2.43 0zM218.0 163.5a1.22 1.22 0 1 0 2.43 0a1.22 1.22 0 1 0 -2.43 0zM209.4 164.9a1.22 1.22 0 1 0 2.43 0a1.22 1.22 0 1 0 -2.43 0zM211.6 169.2a1.22 1.22 0 1 0 2.43 0a1.22 1.22 0 1 0 -2.43 0zM213.0 170.6a1.22 1.22 0 1 0 2.43 0a1.22 1.22 0 1 0 -2.43 0zM204.5 166.4a1.22 1.22 0 1 0 2.43 0a1.22 1.22 0 1 0 -2.43 0zM206.6 169.2a1.22 1.22 0 1 0 2.43 0a1.22 1.22 0 1 0 -2.43 0zM202.7 174.2a1.22 1.22 0 1 0 2.43 0a1.22 1.22 0 1 0 -2.43 0zM197.3 173.9a1.22 1.22 0 1 0 2.43 0a1.22 1.22 0 1 0 -2.43 0zM198.8 177.7a1.22 1.22 0 1 0 2.43 0a1.22 1.22 0 1 0 -2.43 0zM213.3 174.2a1.22 1.22 0 1 0 2.43 0a1.22 1.22 0 1 0 -2.43 0zM219.4 150.3a1.22 1.22 0 1 0 2.43 0a1.22 1.22 0 1 0 -2.43 0zM226.1 151.1a1.22 1.22 0 1 0 2.43 0a1.22 1.22 0 1 0 -2.43 0zM225.4 154.7a1.22 1.22 0 1 0 2.43 0a1.22 1.22 0 1 0 -2.43 0zM224.1 161.7a1.22 1.22 0 1 0 2.43 0a1.22 1.22 0 1 0 -2.43 0zM225.1 162.8a1.22 1.22 0 1 0 2.43 0a1.22 1.22 0 1 0 -2.43 0zM226.5 165.6a1.22 1.22 0 1 0 2.43 0a1.22 1.22 0 1 0 -2.43 0zM232.9 156.4a1.22 1.22 0 1 0 2.43 0a1.22 1.22 0 1 0 -2.43 0zM232.2 174.9a1.22 1.22 0 1 0 2.43 0a1.22 1.22 0 1 0 -2.43 0zM225.1 184.2a1.22 1.22 0 1 0 2.43 0a1.22 1.22 0 1 0 -2.43 0z" fill="#222222"/>
<path d="M149.5 217.6h3.2l-1.6 3.2z" fill="#2a40ff"/>
<path d="M219.4 66.8l1.1 2.3h-2.3zM187.7 80.3l1.1 2.3h-2.3zM166.4 102.4l1.1 2.3h-2.3z" fill="#ff2a2a"/>
<text x="2.4" y="16.4" font-size="20" font-weight="bold">A</text>
<text x="347.5" y="16.7" font-size="19.5" font-weight="bold">B</text>
<path d="M40.4 30 V275.3 H293.8" fill="none" stroke="#555" stroke-width="1.2"/>
<text x="31.3" y="33.1" font-size="6.8" fill="#666" text-anchor="end">100</text>
<text x="31.3" y="61.8" font-size="6.8" fill="#666" text-anchor="end">40</text>
<text x="31.3" y="83.6" font-size="6.8" fill="#666" text-anchor="end">20</text>
<text x="31.3" y="105.3" font-size="6.8" fill="#666" text-anchor="end">10</text>
<text x="31.3" y="134.0" font-size="6.8" fill="#666" text-anchor="end">4</text>
<text x="31.3" y="155.8" font-size="6.8" fill="#666" text-anchor="end">2</text>
<text x="31.3" y="177.5" font-size="6.8" fill="#666" text-anchor="end">1</text>
<text x="31.3" y="206.2" font-size="6.8" fill="#666" text-anchor="end">0.4</text>
<text x="31.3" y="228.0" font-size="6.8" fill="#666" text-anchor="end">0.2</text>
<text x="31.3" y="249.7" font-size="6.8" fill="#666" text-anchor="end">0.1</text>
<text x="31.3" y="278.4" font-size="6.8" fill="#666" text-anchor="end">0.04</text>
<line x1="93.8" y1="275.8" x2="93.8" y2="281.5" stroke="#c2d2ea" stroke-width="0.9"/>
<text x="93.8" y="288.0" font-size="7.1" fill="#666" text-anchor="middle">0.6</text>
<line x1="133.3" y1="275.8" x2="133.3" y2="281.5" stroke="#c2d2ea" stroke-width="0.9"/>
<text x="133.3" y="288.0" font-size="7.1" fill="#666" text-anchor="middle">0.8</text>
<line x1="164.0" y1="275.8" x2="164.0" y2="281.5" stroke="#c2d2ea" stroke-width="0.9"/>
<text x="164.0" y="288.0" font-size="7.1" fill="#666" text-anchor="middle">1</text>
<line x1="259.3" y1="275.8" x2="259.3" y2="281.5" stroke="#c2d2ea" stroke-width="0.9"/>
<text x="259.3" y="288.0" font-size="7.1" fill="#666" text-anchor="middle">2</text>
<text x="127" y="311.4" font-size="15.8" font-weight="bold" textLength="107.3" lengthAdjust="spacingAndGlyphs">Control group</text>
<text transform="translate(14,197.7) rotate(-90)" font-size="16.4" font-weight="bold">COM group</text>
<text x="207.6" y="62.2" font-size="8.15" font-weight="bold" fill="#111" stroke="#111" stroke-width="0.2">LZTS1</text>
<text x="176.6" y="76.1" font-size="8.15" font-weight="bold" fill="#111" stroke="#111" stroke-width="0.2">HES1</text>
<text x="155.5" y="98.3" font-size="8.15" font-weight="bold" fill="#111" stroke="#111" stroke-width="0.2">NKTR</text>
<text x="106.8" y="222.1" font-size="8.15" font-weight="bold" fill="#111" stroke="#111" stroke-width="0.2">SERPINB6</text>
<path d="M217.6 223.3 L222.2 228.6 L217.6 233.9 L213 228.6Z" fill="#000"/>
<path d="M217.60 243.50 L221.80 251.70 L213.40 251.70Z" fill="#ffff00"/>
<path d="M214.00 262.00 L222.20 262.00 L218.10 270.20Z" fill="#0a6fc4"/>
<path d="M126.10 244.20 L130.20 251.90 L122.00 251.90Z" fill="#ff0000"/>
<path d="M122.00 262.00 L130.20 262.00 L126.10 270.20Z" fill="#00b0f0"/>
<text x="228.1" y="232.1" font-size="10.5" font-weight="bold" fill="#111" stroke="#111" stroke-width="0.15">No significance</text>
<text x="228.1" y="250.0" font-size="10.5" font-weight="bold" fill="#111" stroke="#111" stroke-width="0.15">Up &lt; 0.05</text>
<text x="228.1" y="269.3" font-size="10.5" font-weight="bold" fill="#111" stroke="#111" stroke-width="0.15">Down &lt; 0.01</text>
<text x="136.4" y="251.7" font-size="10.5" font-weight="bold" fill="#111" stroke="#111" stroke-width="0.15">Up &lt; 0.01</text>
<text x="136.4" y="270.1" font-size="10.5" font-weight="bold" fill="#111" stroke="#111" stroke-width="0.15">Down &lt; 0.05</text>
<defs><linearGradient id="bg" x1="0" y1="0" x2="1" y2="0"><stop offset="0" stop-color="#f4300f"/><stop offset="0.1" stop-color="#ff0500"/><stop offset="0.2" stop-color="#ff0000"/><stop offset="0.85" stop-color="#ff0000"/><stop offset="0.93" stop-color="#fc1405"/><stop offset="1" stop-color="#f4300f"/></linearGradient></defs>
<text x="377.6" y="259.3" font-size="11.9" font-weight="bold" fill="#595959" text-anchor="end">0</text>
<text x="377.6" y="231.6" font-size="11.9" font-weight="bold" fill="#595959" text-anchor="end">1000</text>
<text x="377.6" y="203.8" font-size="11.9" font-weight="bold" fill="#595959" text-anchor="end">2000</text>
<text x="377.6" y="176.1" font-size="11.9" font-weight="bold" fill="#595959" text-anchor="end">3000</text>
<text x="377.6" y="148.4" font-size="11.9" font-weight="bold" fill="#595959" text-anchor="end">4000</text>
<text x="377.6" y="120.6" font-size="11.9" font-weight="bold" fill="#595959" text-anchor="end">5000</text>
<text x="377.6" y="92.9" font-size="11.9" font-weight="bold" fill="#595959" text-anchor="end">6000</text>
<text x="377.6" y="65.2" font-size="11.9" font-weight="bold" fill="#595959" text-anchor="end">7000</text>
<rect x="414.8" y="77.2" width="29.2" height="178.1" fill="url(#bg)"/>
<line x1="429.4" y1="69.8" x2="429.4" y2="77.2" stroke="#a3a3a3" stroke-width="0.9"/>
<rect x="492.2" y="223.6" width="29.9" height="31.7" fill="url(#bg)"/>
<line x1="508.6" y1="215" x2="507.4" y2="223.6" stroke="#a3a3a3" stroke-width="0.9"/>
<rect x="570.4" y="235.9" width="28.7" height="19.4" fill="url(#bg)"/>
<line x1="584.4" y1="225.4" x2="584.4" y2="235.9" stroke="#a3a3a3" stroke-width="0.9"/>
<rect x="648.2" y="243.0" width="29.2" height="12.3" fill="url(#bg)"/>
<line x1="662.4" y1="234" x2="662.4" y2="243.0" stroke="#a3a3a3" stroke-width="0.9"/>
<text x="429.3" y="64.7" font-size="12.2" font-weight="bold" fill="#404040" text-anchor="middle">6407</text>
<text x="508.1" y="210" font-size="12.2" font-weight="bold" fill="#404040" text-anchor="middle">1141</text>
<text x="584.5" y="220" font-size="12.2" font-weight="bold" fill="#404040" text-anchor="middle">699</text>
<text x="662.1" y="229.7" font-size="12.2" font-weight="bold" fill="#404040" text-anchor="middle">442</text>
<text x="404.02" y="278.8" font-size="15.5" font-weight="bold" fill="#000" textLength="34.95" lengthAdjust="spacingAndGlyphs">Total</text>
<text x="471.91" y="278.8" font-size="15.5" font-weight="bold" fill="#000" textLength="59.57" lengthAdjust="spacingAndGlyphs">Diff. exp</text>
<text x="573.88" y="278.8" font-size="15.5" font-weight="bold" fill="#000" textLength="18.45" lengthAdjust="spacingAndGlyphs">up</text>
<text x="643.35" y="278.8" font-size="15.5" font-weight="bold" fill="#000" textLength="41.1" lengthAdjust="spacingAndGlyphs">Down</text>
<text x="527.5" y="67.4" font-size="13.45" font-weight="bold" fill="#000">COM/Control</text>
</svg>
</body></html>
